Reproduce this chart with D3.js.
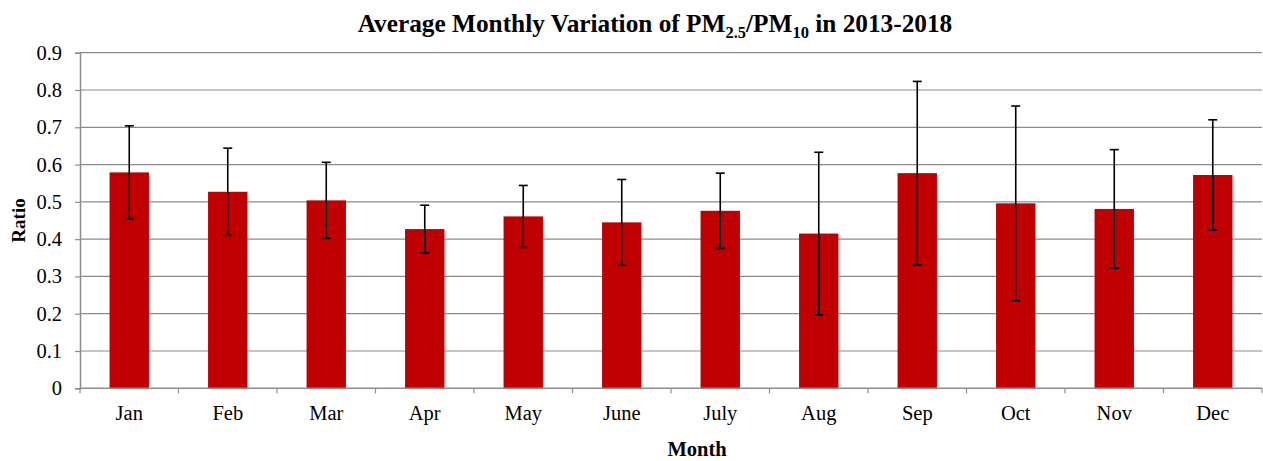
<!DOCTYPE html>
<html lang="en">
<head>
    <meta charset="UTF-8">
    <title>Average Monthly Variation of PM2.5/PM10</title>
    <script src="https://d3js.org/d3.v7.min.js"></script>
    <style>
        body { margin: 0; background: #fff; }
        text { font-family: "Liberation Serif", "Times New Roman", serif; }
    </style>
</head>
<body>
<div id="chart"></div>
<script>
    // monthly mean ratio and +/- error
    var months = ["Jan", "Feb", "Mar", "Apr", "May", "June", "July", "Aug", "Sep", "Oct", "Nov", "Dec"];
    var ratios = [0.579, 0.527, 0.504, 0.427, 0.461, 0.445, 0.476, 0.415, 0.577, 0.496, 0.481, 0.572];
    var errors = [0.125, 0.117, 0.102, 0.064, 0.083, 0.115, 0.101, 0.218, 0.246, 0.261, 0.159, 0.148];
    var yTicks = [0, 0.1, 0.2, 0.3, 0.4, 0.5, 0.6, 0.7, 0.8, 0.9];

    var W = 1263, H = 461;
    var margin = {top: 52.7, right: 1, bottom: 72.7, left: 80};
    var width = W - margin.left - margin.right,
        height = H - margin.top - margin.bottom;

    var svg = d3.select("#chart").append("svg")
        .attr("width", W)
        .attr("height", H);

    var g = svg.append("g")
        .attr("transform", "translate(" + margin.left + "," + margin.top + ")");

    var x = d3.scaleBand().domain(months).range([0, width]).paddingInner(0.6).paddingOuter(0.3);
    var y = d3.scaleLinear().domain([0, 0.9]).range([height, 0]);

    // gridlines
    g.selectAll(".grid").data(yTicks.slice(1)).enter().append("line")
        .attr("x1", 0).attr("x2", width)
        .attr("y1", function (d) { return y(d); })
        .attr("y2", function (d) { return y(d); })
        .attr("stroke", "#8c8c8c").attr("stroke-width", 1.2);

    // y axis
    var yAxis = g.append("g").call(d3.axisLeft(y).tickValues(yTicks).tickSize(5).tickPadding(13)
        .tickFormat(function (d) { return d === 0 ? "0" : d3.format(".1f")(d); }));
    yAxis.select(".domain").attr("stroke", "#8c8c8c").attr("stroke-width", 1.5);
    yAxis.selectAll(".tick line").attr("stroke", "#8c8c8c").attr("stroke-width", 1.2);
    yAxis.selectAll("text")
        .style("font-family", "'Liberation Serif', 'Times New Roman', serif")
        .style("font-size", "20.5px")
        .attr("fill", "#000");

    // bars
    g.selectAll(".bar").data(months).enter().append("rect")
        .attr("x", function (d) { return x(d); })
        .attr("width", x.bandwidth())
        .attr("y", function (d, i) { return y(ratios[i]); })
        .attr("height", function (d, i) { return height - y(ratios[i]); })
        .attr("fill", "#c00000");

    // x axis: ticks between categories
    var xAxis = g.append("g").attr("transform", "translate(0," + height + ")");
    xAxis.append("line").attr("x1", 0).attr("x2", width)
        .attr("stroke", "#8c8c8c").attr("stroke-width", 1.5);
    var step = x.step();
    var x0 = x(months[0]) - step * x.paddingOuter();
    xAxis.selectAll(".xt").data(d3.range(months.length + 1)).enter().append("line")
        .attr("x1", function (i) { return x0 + i * step; })
        .attr("x2", function (i) { return x0 + i * step; })
        .attr("y1", 0).attr("y2", 5)
        .attr("stroke", "#8c8c8c").attr("stroke-width", 1.2);
    xAxis.selectAll(".xl").data(months).enter().append("text")
        .attr("x", function (d) { return x(d) + x.bandwidth() / 2; })
        .attr("y", 32)
        .attr("text-anchor", "middle")
        .attr("font-size", 20.5)
        .text(function (d) { return d; });

    // error bars
    var eb = g.selectAll(".err").data(months).enter().append("g")
        .attr("transform", function (d) { return "translate(" + (x(d) + x.bandwidth() / 2) + ",0)"; });
    eb.append("line")
        .attr("y1", function (d, i) { return y(ratios[i] + errors[i]); })
        .attr("y2", function (d, i) { return y(ratios[i] - errors[i]); })
        .attr("stroke", "#000").attr("stroke-width", 1.6);
    eb.append("line").attr("x1", -4.5).attr("x2", 4.5)
        .attr("y1", function (d, i) { return y(ratios[i] + errors[i]); })
        .attr("y2", function (d, i) { return y(ratios[i] + errors[i]); })
        .attr("stroke", "#000").attr("stroke-width", 1.6);
    eb.append("line").attr("x1", -4.5).attr("x2", 4.5)
        .attr("y1", function (d, i) { return y(ratios[i] - errors[i]); })
        .attr("y2", function (d, i) { return y(ratios[i] - errors[i]); })
        .attr("stroke", "#000").attr("stroke-width", 1.6);

    // title
    var title = svg.append("text")
        .attr("x", 655).attr("y", 32)
        .attr("text-anchor", "middle")
        .attr("font-size", 25.3).attr("font-weight", "bold");
    title.append("tspan").text("Average Monthly Variation of PM");
    title.append("tspan").attr("font-size", 16.5).attr("dy", 6).text("2.5");
    title.append("tspan").attr("dy", -6).text("/PM");
    title.append("tspan").attr("font-size", 16.5).attr("dy", 6).text("10");
    title.append("tspan").attr("dy", -6).text(" in 2013-2018");

    // axis titles
    svg.append("text")
        .attr("transform", "translate(25," + (margin.top + height / 2) + ") rotate(-90)")
        .attr("text-anchor", "middle")
        .attr("font-size", 19).attr("font-weight", "bold")
        .text("Ratio");
    svg.append("text")
        .attr("x", 697).attr("y", 456)
        .attr("text-anchor", "middle")
        .attr("font-size", 20.5).attr("font-weight", "bold")
        .text("Month");
</script>
</body>
</html>
